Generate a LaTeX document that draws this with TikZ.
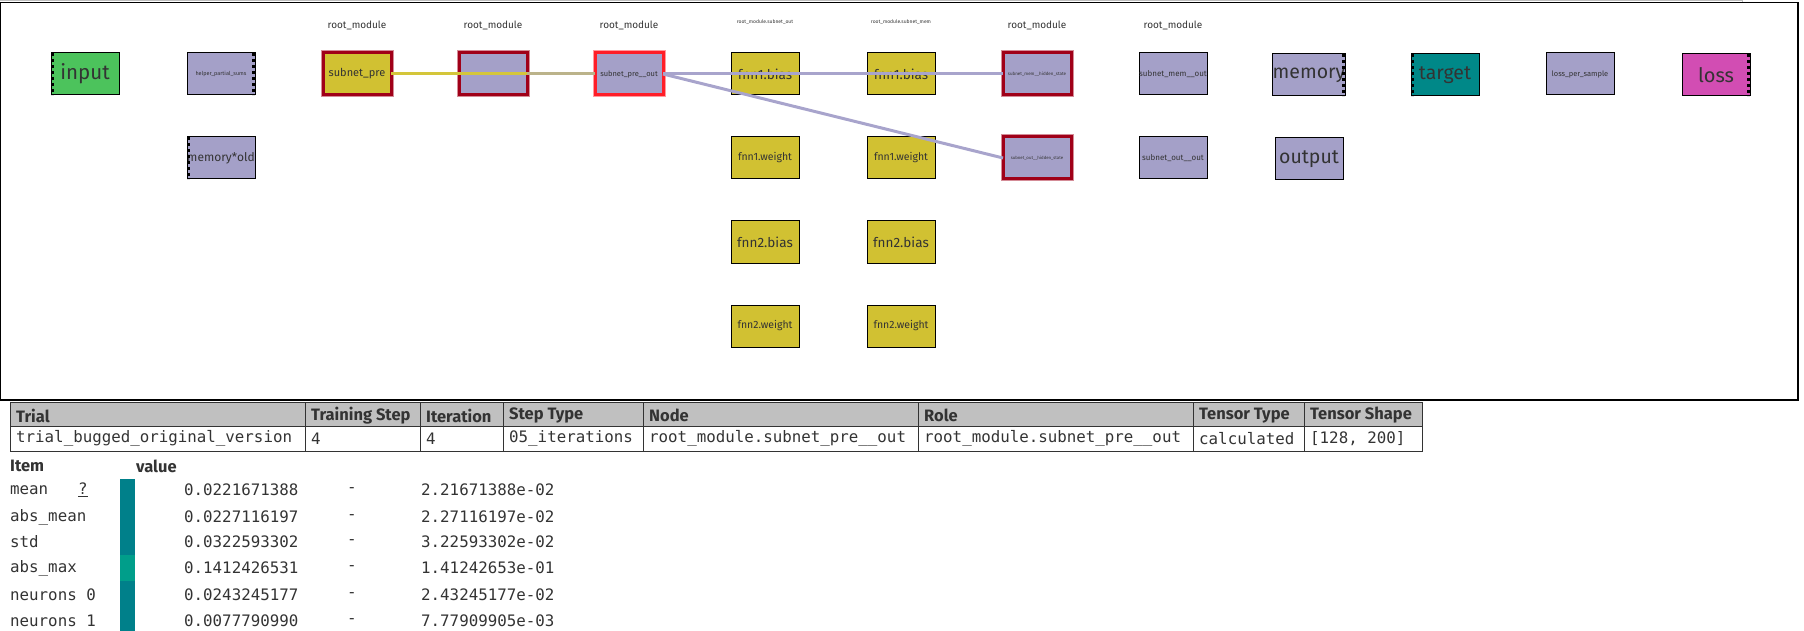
\documentclass[tikz,border=0pt]{standalone}
\usepackage{fontspec}
\setmainfont{Fira Sans}
\setmonofont{DejaVu Sans Mono}
\usetikzlibrary{positioning,calc}

\definecolor{inputgreen}{HTML}{4CC35C}
\definecolor{lavender}{HTML}{A4A0C8}
\definecolor{paramyellow}{HTML}{D1C132}
\definecolor{targetteal}{HTML}{008888}
\definecolor{lossmagenta}{HTML}{D24DB3}
\definecolor{markred}{HTML}{A00018}
\definecolor{pickred}{HTML}{FF1E28}
\definecolor{flowlav}{HTML}{A8A4CC}
\definecolor{flowyellow}{HTML}{D4C63A}
\definecolor{labeltext}{HTML}{333333}
\definecolor{headgray}{HTML}{C0C0C0}
\definecolor{barteal}{HTML}{00808A}
\definecolor{barlight}{HTML}{009E8A}

\newcommand{\setfs}[1]{\fontsize{#1}{#1}\selectfont}

\begin{document}
\begin{tikzpicture}[x=1pt,y=-1pt,
	tensor/.style={draw=black, line width=1pt, minimum width=68pt, minimum height=42pt,
		inner sep=0pt, outer sep=0pt, text=labeltext},
	lav/.style={tensor, fill=lavender},
	param/.style={tensor, fill=paramyellow},
	marked/.style={draw=markred, line width=3pt, preaction={draw=markred!45, line width=5pt}},
	picked/.style={draw=pickred, line width=3pt, preaction={draw=pickred!45, line width=5pt}},
	port/.style={line width=3pt, dash pattern=on 3pt off 3pt},
	flow/.style={line width=3pt, draw=flowlav},
	modlabel/.style={text=labeltext, inner sep=0pt},
	headtxt/.style={anchor=west, inner sep=0pt, text=labeltext, font=\setfs{16.5}\bfseries},
	monotxt/.style={anchor=west, inner sep=0pt, text=labeltext, font=\setfs{15.8}\ttfamily}]

	\useasboundingbox (0,0) rectangle (1804,631);

	% graph panel
	\draw[gray!50, line width=0.8pt] (0,0.5) -- (1742,0.5) -- (1742,2.5);
	\draw[line width=1.2pt] (0.6,2.5) rectangle (1798,400);

	% module labels
	\foreach \xa in {357,493,629,1037,1173}
		\node[modlabel, font=\setfs{10}] (mod\xa) at (\xa,25) {root\_module};
	\node[modlabel, font=\setfs{5}] (modout) at (765,22) {root\_module.subnet\_out};
	\node[modlabel, font=\setfs{5}] (modmem) at (901,22) {root\_module.subnet\_mem};

	% first row
	\node[tensor, fill=inputgreen, font=\setfs{20.5}] (input) at (85,74) {input};
	\node[lav, font=\setfs{5.5}] (helper) at (221,74) {helper\_partial\_sums};
	\node[param, marked, font=\setfs{11}] (subpre) at (357,74) {subnet\_pre};
	\node[lav, marked] (hidpre) at (493,74) {};
	\node[lav, picked, font=\setfs{7.5}] (subpreout) at (629,74) {subnet\_pre\_\_out};
	\node[param, font=\setfs{13.5}] (outbiasa) at (765,74) {fnn1.bias};
	\node[param, font=\setfs{13.5}] (membiasa) at (901,74) {fnn1.bias};
	\node[lav, marked, font=\setfs{4.5}] (memhid) at (1037,74) {subnet\_mem\_\_hidden\_state};
	\node[lav, font=\setfs{8}] (memout) at (1173,74) {subnet\_mem\_\_out};
	\node[lav, font=\setfs{19.5}] (memory) at (1309,75) {memory};
	\node[tensor, fill=targetteal, font=\setfs{19.5}] (target) at (1445,75) {target};
	\node[lav, font=\setfs{7.5}] (lossps) at (1580,74) {loss\_per\_sample};
	\node[tensor, fill=lossmagenta, font=\setfs{20}] (loss) at (1716,75) {loss};

	% lower rows
	\node[lav, font=\setfs{12}, below=42pt of helper] (memold) {memory*old};
	\node[param, font=\setfs{10.5}, below=42pt of outbiasa] (outweighta) {fnn1.weight};
	\node[param, font=\setfs{10.5}, below=42pt of membiasa] (memweighta) {fnn1.weight};
	\node[lav, marked, font=\setfs{4.3}, below=42pt of memhid] (outhid) {subnet\_out\_\_hidden\_state};
	\node[lav, font=\setfs{8}, below=42pt of memout] (outout) {subnet\_out\_\_out};
	\node[lav, font=\setfs{19.5}, below=42pt of memory] (output) {output};
	\node[param, font=\setfs{13.5}, below=42pt of outweighta] (outbiasb) {fnn2.bias};
	\node[param, font=\setfs{13.5}, below=42pt of memweighta] (membiasb) {fnn2.bias};
	\node[param, font=\setfs{10.5}, below=42pt of outbiasb] (outweightb) {fnn2.weight};
	\node[param, font=\setfs{10.5}, below=42pt of membiasb] (memweightb) {fnn2.weight};

	% dashed port sides
	\foreach \n in {input,memold,target}
		\draw[port] ([xshift=1.5pt]\n.north west) -- ([xshift=1.5pt]\n.south west);
	\foreach \n in {helper,memory,loss}
		\draw[port] ([xshift=-1.5pt]\n.north east) -- ([xshift=-1.5pt]\n.south east);

	% connections
	\draw[line width=3pt, flowyellow] (subpre.east) -- (subpreout.west);
	\draw[flow, opacity=0.55] (hidpre.east) -- (subpreout.west);
	\draw[flow] (subpreout.east) -- (memhid.west);
	\draw[flow] (subpreout.east) -- (outhid.west);

	% info table
	\fill[headgray] (10,402) rectangle (1422,426);
	\draw[labeltext, line width=1pt] (10,402) rectangle (1422,451);
	\draw[labeltext, line width=1pt] (10,426) -- (1422,426);
	\foreach \xa in {305,420,503,643,918,1193,1304}
		\draw[labeltext, line width=1pt] (\xa,402) -- (\xa,451);
	\foreach \xa/\t [count=\i] in {10/Trial, 305/Training Step, 420/Iteration, 503/Step Type,
			643/Node, 918/Role, 1193/Tensor Type, 1304/Tensor Shape}
		\node[headtxt] (hd\i) at (\xa+6,415.5) {\t};
	\foreach \xa/\t [count=\i] in {10/trial\_bugged\_original\_version, 305/4, 420/4,
			503/05\_iterations, 643/root\_module.subnet\_pre\_\_out,
			918/root\_module.subnet\_pre\_\_out, 1193/calculated, 1304/{[128, 200]}}
		\node[monotxt] (dt\i) at (\xa+6,438.5) {\t};

	% value list
	\node[headtxt] (itemhd) at (10,466) {Item};
	\node[headtxt] (valuehd) at (136,466) {value};
	\fill[barteal] (120,479) rectangle (135,631);
	\fill[barlight] (120,555) rectangle (135,581);
	\foreach \ya/\t/\va/\vb [count=\i] in {490/mean/0.0221671388/2.21671388e-02,
			517/abs\_mean/0.0227116197/2.27116197e-02,
			542/std/0.0322593302/3.22593302e-02,
			568/abs\_max/0.1412426531/1.41242653e-01,
			595/neurons 0/0.0243245177/2.43245177e-02,
			621/neurons 1/0.0077790990/7.77909905e-03}{
		\node[monotxt] (it\i) at (10,\ya) {\t};
		\node[monotxt] (va\i) at (184,\ya) {\va};
		\node[monotxt, anchor=center] (da\i) at (352,\ya) {-};
		\node[monotxt] (vb\i) at (421,\ya) {\vb};
	}
	\node[monotxt] (help) at (78,490) {\underline{?}};
\end{tikzpicture}
\end{document}
